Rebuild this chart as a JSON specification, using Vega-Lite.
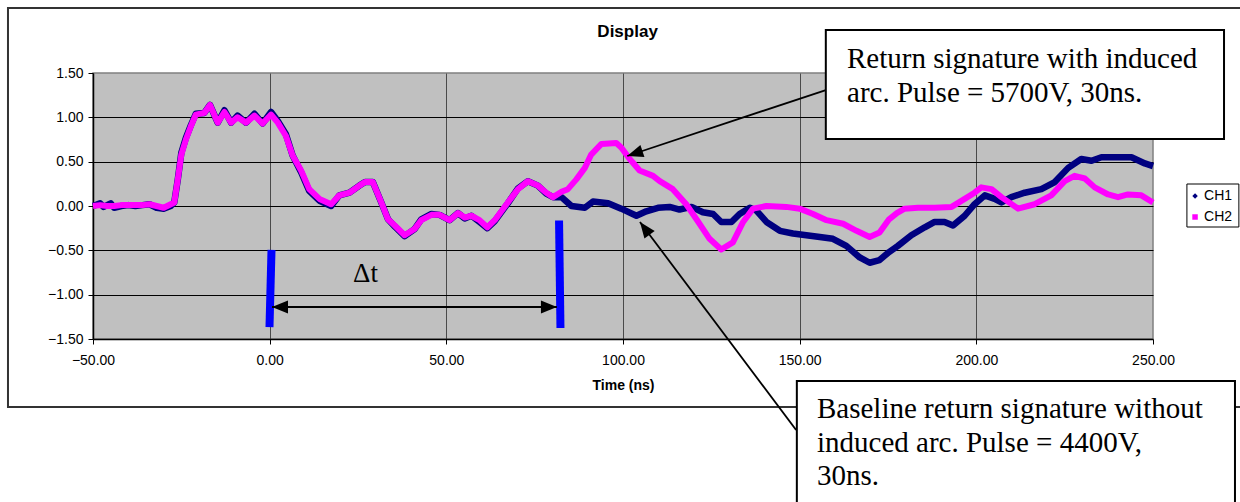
{
  "$schema": "https://vega.github.io/schema/vega-lite/v6.json",
  "width": 1060,
  "height": 266,
  "autosize": {"type": "none"},
  "padding": {"left": 93, "top": 73, "right": 87, "bottom": 163},
  "background": "white",
  "config": {
    "view": {"fill": "#C0C0C0", "stroke": "#808080", "strokeWidth": 1.5},
    "font": "Liberation Sans",
    "axis": {
      "labelFont": "Liberation Sans", "labelFontSize": 14, "labelColor": "#000",
      "tickColor": "#000", "tickSize": 5, "tickWidth": 1,
      "domainColor": "#000", "domainWidth": 1.5,
      "gridOpacity": 1, "gridWidth": 1,
      "titleFont": "Liberation Sans", "titleColor": "#000"
    }
  },
  "datasets": {
    "series": [
      {"ch":"CH1","t":-50,"v":0.0},{"ch":"CH1","t":-48,"v":0.03},{"ch":"CH1","t":-47,"v":-0.01},{"ch":"CH1","t":-45,"v":0.03},{"ch":"CH1","t":-44,"v":-0.02},{"ch":"CH1","t":-42,"v":0.0},{"ch":"CH1","t":-40,"v":0.01},{"ch":"CH1","t":-38,"v":0.0},{"ch":"CH1","t":-36,"v":0.01},{"ch":"CH1","t":-34,"v":0.02},{"ch":"CH1","t":-32,"v":-0.02},{"ch":"CH1","t":-30,"v":-0.03},{"ch":"CH1","t":-28,"v":0.0},{"ch":"CH1","t":-27,"v":0.04},{"ch":"CH1","t":-26,"v":0.3},{"ch":"CH1","t":-25,"v":0.6},{"ch":"CH1","t":-23.7,"v":0.77},{"ch":"CH1","t":-22.3,"v":0.91},{"ch":"CH1","t":-20.9,"v":1.04},{"ch":"CH1","t":-18.5,"v":1.05},{"ch":"CH1","t":-16.9,"v":1.14},{"ch":"CH1","t":-14.7,"v":0.94},{"ch":"CH1","t":-12.8,"v":1.08},{"ch":"CH1","t":-10.9,"v":0.94},{"ch":"CH1","t":-9.1,"v":1.02},{"ch":"CH1","t":-6.7,"v":0.94},{"ch":"CH1","t":-4.3,"v":1.04},{"ch":"CH1","t":-2.0,"v":0.93},{"ch":"CH1","t":0.4,"v":1.06},{"ch":"CH1","t":2.3,"v":0.96},{"ch":"CH1","t":4.6,"v":0.81},{"ch":"CH1","t":6.5,"v":0.57},{"ch":"CH1","t":8.9,"v":0.38},{"ch":"CH1","t":11.2,"v":0.17},{"ch":"CH1","t":14.1,"v":0.06},{"ch":"CH1","t":17.4,"v":0.0},{"ch":"CH1","t":19.7,"v":0.12},{"ch":"CH1","t":22.6,"v":0.15},{"ch":"CH1","t":25.4,"v":0.23},{"ch":"CH1","t":27,"v":0.27},{"ch":"CH1","t":29.2,"v":0.27},{"ch":"CH1","t":31.6,"v":0.04},{"ch":"CH1","t":33.5,"v":-0.15},{"ch":"CH1","t":35.4,"v":-0.23},{"ch":"CH1","t":38.2,"v":-0.34},{"ch":"CH1","t":41.0,"v":-0.26},{"ch":"CH1","t":42.9,"v":-0.15},{"ch":"CH1","t":45.8,"v":-0.09},{"ch":"CH1","t":48.1,"v":-0.1},{"ch":"CH1","t":50.9,"v":-0.16},{"ch":"CH1","t":53.3,"v":-0.08},{"ch":"CH1","t":55.2,"v":-0.14},{"ch":"CH1","t":57.1,"v":-0.11},{"ch":"CH1","t":59.4,"v":-0.18},{"ch":"CH1","t":61.6,"v":-0.25},{"ch":"CH1","t":63.7,"v":-0.17},{"ch":"CH1","t":67.4,"v":0.03},{"ch":"CH1","t":70.3,"v":0.2},{"ch":"CH1","t":73.1,"v":0.28},{"ch":"CH1","t":75.9,"v":0.23},{"ch":"CH1","t":78.3,"v":0.14},{"ch":"CH1","t":80.2,"v":0.1},{"ch":"CH1","t":82.6,"v":0.1},{"ch":"CH1","t":85.4,"v":0.0},{"ch":"CH1","t":89.2,"v":-0.02},{"ch":"CH1","t":91.5,"v":0.05},{"ch":"CH1","t":95.8,"v":0.03},{"ch":"CH1","t":99.5,"v":-0.03},{"ch":"CH1","t":103.8,"v":-0.11},{"ch":"CH1","t":106.6,"v":-0.06},{"ch":"CH1","t":109.9,"v":-0.02},{"ch":"CH1","t":113.2,"v":-0.01},{"ch":"CH1","t":116,"v":-0.04},{"ch":"CH1","t":119.4,"v":-0.01},{"ch":"CH1","t":122.6,"v":-0.07},{"ch":"CH1","t":125.5,"v":-0.09},{"ch":"CH1","t":127.8,"v":-0.18},{"ch":"CH1","t":130.7,"v":-0.18},{"ch":"CH1","t":133,"v":-0.09},{"ch":"CH1","t":135.9,"v":-0.02},{"ch":"CH1","t":137.7,"v":-0.05},{"ch":"CH1","t":140.6,"v":-0.18},{"ch":"CH1","t":144.4,"v":-0.28},{"ch":"CH1","t":148.1,"v":-0.31},{"ch":"CH1","t":151.9,"v":-0.33},{"ch":"CH1","t":155.7,"v":-0.35},{"ch":"CH1","t":159.4,"v":-0.37},{"ch":"CH1","t":163.2,"v":-0.45},{"ch":"CH1","t":167,"v":-0.58},{"ch":"CH1","t":169.8,"v":-0.64},{"ch":"CH1","t":172.6,"v":-0.61},{"ch":"CH1","t":175.3,"v":-0.52},{"ch":"CH1","t":177.8,"v":-0.45},{"ch":"CH1","t":181.6,"v":-0.33},{"ch":"CH1","t":185.4,"v":-0.24},{"ch":"CH1","t":188.2,"v":-0.18},{"ch":"CH1","t":191,"v":-0.18},{"ch":"CH1","t":193.4,"v":-0.22},{"ch":"CH1","t":196.7,"v":-0.11},{"ch":"CH1","t":199.5,"v":0.02},{"ch":"CH1","t":202.4,"v":0.12},{"ch":"CH1","t":205.2,"v":0.08},{"ch":"CH1","t":207.1,"v":0.04},{"ch":"CH1","t":209.9,"v":0.1},{"ch":"CH1","t":213.7,"v":0.15},{"ch":"CH1","t":218.4,"v":0.19},{"ch":"CH1","t":222.2,"v":0.27},{"ch":"CH1","t":226,"v":0.43},{"ch":"CH1","t":229.7,"v":0.53},{"ch":"CH1","t":232.6,"v":0.51},{"ch":"CH1","t":235.4,"v":0.55},{"ch":"CH1","t":240.1,"v":0.55},{"ch":"CH1","t":243.9,"v":0.55},{"ch":"CH1","t":247.7,"v":0.48},{"ch":"CH1","t":250,"v":0.45},
      {"ch":"CH2","t":-50,"v":0.0},{"ch":"CH2","t":-48,"v":0.01},{"ch":"CH2","t":-46,"v":0.0},{"ch":"CH2","t":-44,"v":0.0},{"ch":"CH2","t":-42,"v":0.01},{"ch":"CH2","t":-40,"v":0.01},{"ch":"CH2","t":-38,"v":0.01},{"ch":"CH2","t":-36,"v":0.01},{"ch":"CH2","t":-34,"v":0.02},{"ch":"CH2","t":-32,"v":0.0},{"ch":"CH2","t":-30,"v":-0.02},{"ch":"CH2","t":-28,"v":0.02},{"ch":"CH2","t":-27,"v":0.04},{"ch":"CH2","t":-26,"v":0.3},{"ch":"CH2","t":-25,"v":0.58},{"ch":"CH2","t":-23.7,"v":0.75},{"ch":"CH2","t":-22.3,"v":0.9},{"ch":"CH2","t":-20.9,"v":1.03},{"ch":"CH2","t":-18.5,"v":1.05},{"ch":"CH2","t":-16.9,"v":1.14},{"ch":"CH2","t":-14.7,"v":0.94},{"ch":"CH2","t":-12.8,"v":1.06},{"ch":"CH2","t":-10.9,"v":0.94},{"ch":"CH2","t":-9.1,"v":1.0},{"ch":"CH2","t":-6.7,"v":0.94},{"ch":"CH2","t":-4.3,"v":1.02},{"ch":"CH2","t":-2.0,"v":0.93},{"ch":"CH2","t":0.4,"v":1.03},{"ch":"CH2","t":2.3,"v":0.94},{"ch":"CH2","t":4.6,"v":0.79},{"ch":"CH2","t":6.5,"v":0.57},{"ch":"CH2","t":8.9,"v":0.4},{"ch":"CH2","t":11.2,"v":0.19},{"ch":"CH2","t":14.1,"v":0.08},{"ch":"CH2","t":17.4,"v":0.02},{"ch":"CH2","t":19.7,"v":0.12},{"ch":"CH2","t":22.6,"v":0.15},{"ch":"CH2","t":25.4,"v":0.23},{"ch":"CH2","t":27,"v":0.27},{"ch":"CH2","t":29.2,"v":0.27},{"ch":"CH2","t":31.6,"v":0.04},{"ch":"CH2","t":33.5,"v":-0.15},{"ch":"CH2","t":35.4,"v":-0.22},{"ch":"CH2","t":38.2,"v":-0.33},{"ch":"CH2","t":41.0,"v":-0.26},{"ch":"CH2","t":42.9,"v":-0.16},{"ch":"CH2","t":45.8,"v":-0.1},{"ch":"CH2","t":48.1,"v":-0.1},{"ch":"CH2","t":50.9,"v":-0.16},{"ch":"CH2","t":53.3,"v":-0.08},{"ch":"CH2","t":55.2,"v":-0.13},{"ch":"CH2","t":57.1,"v":-0.11},{"ch":"CH2","t":59.4,"v":-0.16},{"ch":"CH2","t":61.6,"v":-0.24},{"ch":"CH2","t":63.7,"v":-0.16},{"ch":"CH2","t":67.4,"v":0.04},{"ch":"CH2","t":70.3,"v":0.19},{"ch":"CH2","t":73.1,"v":0.28},{"ch":"CH2","t":75.9,"v":0.23},{"ch":"CH2","t":78.3,"v":0.15},{"ch":"CH2","t":80.2,"v":0.1},{"ch":"CH2","t":82.6,"v":0.16},{"ch":"CH2","t":84.4,"v":0.19},{"ch":"CH2","t":86.8,"v":0.3},{"ch":"CH2","t":89.2,"v":0.43},{"ch":"CH2","t":91.0,"v":0.58},{"ch":"CH2","t":93.9,"v":0.7},{"ch":"CH2","t":98.1,"v":0.71},{"ch":"CH2","t":99.5,"v":0.66},{"ch":"CH2","t":101.9,"v":0.53},{"ch":"CH2","t":104.7,"v":0.4},{"ch":"CH2","t":108.5,"v":0.34},{"ch":"CH2","t":110.4,"v":0.28},{"ch":"CH2","t":114.1,"v":0.19},{"ch":"CH2","t":117.9,"v":0.02},{"ch":"CH2","t":120.8,"v":-0.15},{"ch":"CH2","t":124.5,"v":-0.37},{"ch":"CH2","t":127.8,"v":-0.49},{"ch":"CH2","t":131.1,"v":-0.41},{"ch":"CH2","t":134,"v":-0.18},{"ch":"CH2","t":136.8,"v":-0.03},{"ch":"CH2","t":140.6,"v":0.0},{"ch":"CH2","t":146.2,"v":-0.01},{"ch":"CH2","t":150,"v":-0.03},{"ch":"CH2","t":153.8,"v":-0.09},{"ch":"CH2","t":157.6,"v":-0.16},{"ch":"CH2","t":162.3,"v":-0.2},{"ch":"CH2","t":166.1,"v":-0.28},{"ch":"CH2","t":169.8,"v":-0.35},{"ch":"CH2","t":172.6,"v":-0.3},{"ch":"CH2","t":175.3,"v":-0.15},{"ch":"CH2","t":177.5,"v":-0.08},{"ch":"CH2","t":179.7,"v":-0.03},{"ch":"CH2","t":183.5,"v":-0.02},{"ch":"CH2","t":188.2,"v":-0.02},{"ch":"CH2","t":193,"v":-0.01},{"ch":"CH2","t":196.7,"v":0.08},{"ch":"CH2","t":199.5,"v":0.15},{"ch":"CH2","t":201.4,"v":0.21},{"ch":"CH2","t":204.3,"v":0.19},{"ch":"CH2","t":207.1,"v":0.1},{"ch":"CH2","t":211.8,"v":-0.03},{"ch":"CH2","t":216.5,"v":0.02},{"ch":"CH2","t":221.2,"v":0.12},{"ch":"CH2","t":225,"v":0.28},{"ch":"CH2","t":227.8,"v":0.34},{"ch":"CH2","t":230.7,"v":0.31},{"ch":"CH2","t":233.5,"v":0.21},{"ch":"CH2","t":237.3,"v":0.13},{"ch":"CH2","t":240.1,"v":0.1},{"ch":"CH2","t":242.9,"v":0.13},{"ch":"CH2","t":246.7,"v":0.12},{"ch":"CH2","t":250,"v":0.04}
    ],
    "frame": [{"t": -74.06, "t2": 282, "v": 2.233, "v2": -2.267}],
    "box1": [{"t": 157.4, "t2": 270.1, "v": 1.985, "v2": 0.756}],
    "box2": [{"t": 149.2, "t2": 273.2, "v": -1.974, "v2": -3.6}],
    "keybox": [{"t": 259.6, "t2": 274.3, "v": 0.248, "v2": -0.237}],
    "key": [{"ch": "CH1", "t": 261.9, "v": 0.113}, {"ch": "CH2", "t": 261.9, "v": -0.124}],
    "notes": [
      {"t": 163.4, "v": 1.556, "text": "Return signature with induced"},
      {"t": 163.4, "v": 1.176, "text": "arc. Pulse = 5700V, 30ns."},
      {"t": 154.9, "v": -2.391, "text": "Baseline return signature without"},
      {"t": 154.9, "v": -2.771, "text": "induced arc. Pulse = 4400V,"},
      {"t": 154.9, "v": -3.147, "text": "30ns."}
    ],
    "delta": [{"t": 23.6, "v": -0.857, "text": "Δt"}],
    "heading": [{"t": 101.3, "v": 1.962, "text": "Display"}],
    "bars": [
      {"t": 0.52, "v": -0.496, "t2": -0.05, "v2": -1.365},
      {"t": 81.9, "v": -0.164, "t2": 82.3, "v2": -1.376}
    ],
    "arrows": [
      {"t": 157.4, "v": 1.308, "t2": 101.2, "v2": 0.564},
      {"t": 149.0, "v": -2.526, "t2": 104.8, "v2": -0.18},
      {"t": 0.66, "v": -1.139, "t2": 81.3, "v2": -1.139}
    ]
  },
  "encoding": {
    "x": {
      "field": "t", "type": "quantitative",
      "scale": {"domain": [-50, 250], "nice": false, "zero": false},
      "axis": {
        "values": [-50, 0, 50, 100, 150, 200, 250], "format": ".2f", "labelFlush": false,
        "labelPadding": 9, "title": "Time (ns)", "titleFontSize": 14, "titleFontWeight": "bold", "titlePadding": 11,
        "gridColor": {"condition": {"test": "datum.value == -50 || datum.value == 250", "value": "transparent"}, "value": "#4a4a4a"}
      }
    },
    "y": {
      "field": "v", "type": "quantitative",
      "scale": {"domain": [-1.5, 1.5], "nice": false, "zero": false},
      "axis": {
        "values": [-1.5, -1, -0.5, 0, 0.5, 1, 1.5], "format": ".2f", "title": null, "labelPadding": 5, "labelFlush": false,
        "gridColor": {"condition": {"test": "datum.value == 1.5 || datum.value == -1.5", "value": "transparent"}, "value": "#000"}
      }
    }
  },
  "layer": [
    {
      "data": {"name": "series"},
      "transform": [{"filter": "datum.ch == 'CH1'"}],
      "mark": {"type": "line", "strokeWidth": 6.5, "strokeJoin": "round"},
      "encoding": {"color": {"field": "ch", "type": "nominal", "scale": {"domain": ["CH1", "CH2"], "range": ["#000080", "#FF00FF"]}, "legend": null}}
    },
    {
      "data": {"name": "series"},
      "transform": [{"filter": "datum.ch == 'CH2'"}],
      "mark": {"type": "line", "strokeWidth": 6, "strokeJoin": "round"},
      "encoding": {"color": {"field": "ch", "type": "nominal", "scale": {"domain": ["CH1", "CH2"], "range": ["#000080", "#FF00FF"]}, "legend": null}}
    },
    {
      "data": {"name": "bars"},
      "mark": {"type": "rule", "color": "#0000FF", "strokeWidth": 8, "strokeCap": "butt"},
      "encoding": {"x2": {"field": "t2"}, "y2": {"field": "v2"}}
    },
    {
      "data": {"name": "delta"},
      "mark": {"type": "text", "font": "Liberation Serif", "fontSize": 27, "align": "left", "baseline": "alphabetic", "color": "#000"},
      "encoding": {"text": {"field": "text"}}
    },
    {
      "data": {"name": "heading"},
      "mark": {"type": "text", "font": "Liberation Sans", "fontSize": 17, "fontWeight": "bold", "align": "center", "baseline": "middle", "color": "#000"},
      "encoding": {"text": {"field": "text"}}
    },
    {
      "data": {"name": "frame"},
      "mark": {"type": "rect", "filled": false, "stroke": "#333333", "strokeWidth": 2},
      "encoding": {"x2": {"field": "t2"}, "y2": {"field": "v2"}}
    },
    {
      "data": {"name": "keybox"},
      "mark": {"type": "rect", "fill": "#fff", "stroke": "#000", "strokeWidth": 1},
      "encoding": {"x2": {"field": "t2"}, "y2": {"field": "v2"}}
    },
    {
      "data": {"name": "key"},
      "mark": {"type": "point", "filled": true, "opacity": 1, "size": 30},
      "encoding": {
        "color": {"field": "ch", "type": "nominal", "scale": {"domain": ["CH1", "CH2"], "range": ["#000080", "#FF00FF"]}, "legend": null},
        "shape": {"field": "ch", "type": "nominal", "scale": {"domain": ["CH1", "CH2"], "range": ["diamond", "square"]}, "legend": null}
      }
    },
    {
      "data": {"name": "key"},
      "mark": {"type": "text", "font": "Liberation Sans", "fontSize": 14, "align": "left", "baseline": "middle", "dx": 9, "color": "#000"},
      "encoding": {"text": {"field": "ch"}}
    },
    {
      "data": {"name": "arrows"},
      "mark": {"type": "rule", "color": "#000", "strokeWidth": 1.8},
      "encoding": {"x2": {"field": "t2"}, "y2": {"field": "v2"}}
    },
    {
      "data": {"values": [{"t": 101.2, "v": 0.564}]},
      "mark": {"type": "point", "shape": "M0,0L-1,-0.4L-1,0.4Z", "filled": true, "color": "#000", "opacity": 1, "size": 1024, "angle": 161.65, "strokeWidth": 0}
    },
    {
      "data": {"values": [{"t": 104.8, "v": -0.18}]},
      "mark": {"type": "point", "shape": "M0,0L-1,-0.4L-1,0.4Z", "filled": true, "color": "#000", "opacity": 1, "size": 1024, "angle": 233.13, "strokeWidth": 0}
    },
    {
      "data": {"values": [{"t": 0.66, "v": -1.139}]},
      "mark": {"type": "point", "shape": "M0,0L-1,-0.4L-1,0.4Z", "filled": true, "color": "#000", "opacity": 1, "size": 1024, "angle": 180, "strokeWidth": 0}
    },
    {
      "data": {"values": [{"t": 81.3, "v": -1.139}]},
      "mark": {"type": "point", "shape": "M0,0L-1,-0.4L-1,0.4Z", "filled": true, "color": "#000", "opacity": 1, "size": 1024, "angle": 0, "strokeWidth": 0}
    },
    {
      "data": {"name": "box1"},
      "mark": {"type": "rect", "fill": "#fff", "stroke": "#000", "strokeWidth": 2},
      "encoding": {"x2": {"field": "t2"}, "y2": {"field": "v2"}}
    },
    {
      "data": {"name": "box2"},
      "mark": {"type": "rect", "fill": "#fff", "stroke": "#000", "strokeWidth": 2},
      "encoding": {"x2": {"field": "t2"}, "y2": {"field": "v2"}}
    },
    {
      "data": {"name": "notes"},
      "mark": {"type": "text", "font": "Liberation Serif", "fontSize": 29, "align": "left", "baseline": "alphabetic", "color": "#000"},
      "encoding": {"text": {"field": "text"}}
    }
  ]
}
